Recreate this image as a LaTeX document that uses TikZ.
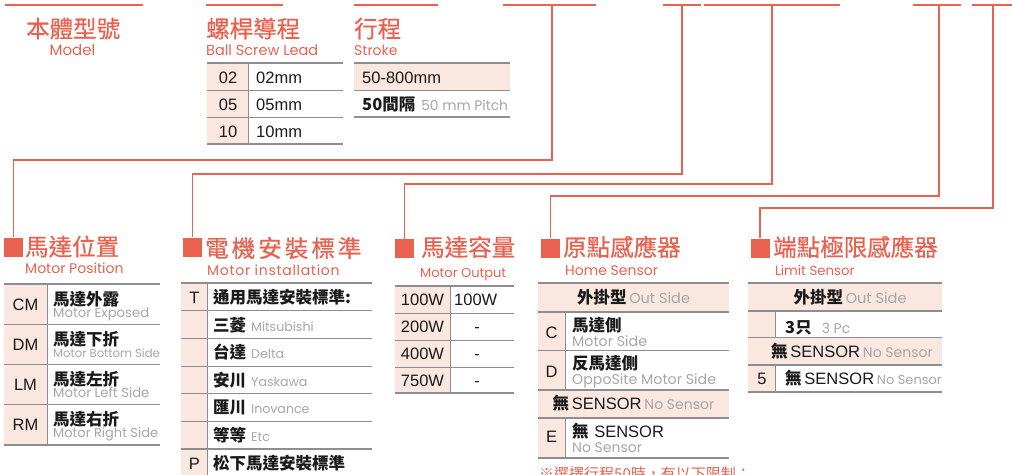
\documentclass[tikz,border=0pt]{standalone}
\usepackage{fontspec}
\setmainfont{Liberation Sans}
\newfontfamily\cjk{Noto Sans CJK TC}
\newfontfamily\cjkhead{Noto Sans CJK TC}[FakeBold=0.6]
\newfontfamily\geo{Poppins}
\definecolor{brand}{HTML}{E8624F}
\definecolor{shade}{HTML}{FAE8E0}
\definecolor{rulec}{HTML}{8E8E8E}
\definecolor{note}{HTML}{A6A6A6}
\definecolor{ink}{HTML}{1A1A1A}
\newcommand\headf{\cjkhead\fontsize{23.5}{24}\selectfont}
\newcommand\subf{\geo\fontsize{14}{14}\selectfont}
\newcommand\zhf{\cjk\bfseries\fontsize{16.5}{17}\selectfont\color{ink}}
\newcommand\enf{\geo\fontsize{13.2}{13.2}\selectfont\color{note}}
\newcommand\cdf{\fontsize{16.5}{17}\selectfont\color{ink}}
\newcommand\enz[1]{\geo\fontsize{#1}{#1}\selectfont\color{note}}
\tikzset{
  topline/.style={draw=brand, line width=2.6pt},
  link/.style={draw=brand, line width=1.6pt},
  sqbox/.style={fill=brand, minimum width=19pt, minimum height=19pt, inner sep=0pt},
  headtxt/.style={inner sep=0pt, anchor=base west, text=brand, font=\headf},
  subtxt/.style={inner sep=0pt, anchor=base west, text=brand, font=\subf},
  txt/.style={inner sep=0pt, anchor=base west},
  ctxt/.style={inner sep=0pt, anchor=base},
  bigrule/.style={draw=rulec, line width=2pt},
  smallrule/.style={draw=rulec, line width=1pt},
  shd/.style={fill=shade, draw=none},
}
\begin{document}
\begin{tikzpicture}[x=1pt,y=-1pt]
\useasboundingbox (0,0) rectangle (1012,474);
\clip (0,0) rectangle (1012,474);

% ---------- top segments ----------
\draw[topline] (5,5) -- (143,5);
\draw[topline] (206,5) -- (283,5);
\draw[topline] (354,5) -- (438,5);
\draw[topline] (503,5) -- (596,5);
\draw[topline] (663,5) -- (701,5);
\draw[topline] (704,5) -- (840,5);
\draw[topline] (913,5) -- (961,5);
\draw[topline] (972,5) -- (1012,5);
\coordinate (d4) at (552,5);
\coordinate (d5) at (682,5);
\coordinate (d6) at (772,5);
\coordinate (d7) at (939,5);
\coordinate (d8) at (993,5);

% ---------- top headings ----------
\node[headtxt] (h1) at (26,37.5) {本體型號};
\node[subtxt, anchor=base, font=\geo\fontsize{15}{15}\selectfont] (s1) at (72.5,55) {Model};
\node[headtxt] (h2) at (206,37.5) {螺桿導程};
\node[subtxt, font=\geo\fontsize{14.5}{14.5}\selectfont] (s2) at (206,55) {Ball Screw Lead};
\node[headtxt] (h3) at (354,37.5) {行程};
\node[subtxt] (s3) at (354,55) {Stroke};

% ---------- table: ball screw lead ----------
\fill[shd] (207,63) rectangle (248,144);
\draw[bigrule] (207,63) -- (343,63);
\draw[smallrule] (207,90) -- (343,90);
\draw[smallrule] (207,117) -- (343,117);
\draw[bigrule] (207,144) -- (343,144);
\draw[smallrule] (248,63) -- (248,144);
\node[ctxt, font=\cdf] (a1) at (228,83) {02};
\node[txt, font=\cdf] (a2) at (256,83) {02mm};
\node[ctxt, font=\cdf] (a3) at (228,110.5) {05};
\node[txt, font=\cdf] (a4) at (256,110.5) {05mm};
\node[ctxt, font=\cdf] (a5) at (228,137) {10};
\node[txt, font=\cdf] (a6) at (256,137) {10mm};

% ---------- table: stroke ----------
\fill[shd] (354,63) rectangle (510,90);
\draw[bigrule] (354,63) -- (510,63);
\draw[smallrule] (354,90) -- (510,90);
\draw[bigrule] (354,117) -- (510,117);
\node[txt, font=\cdf] (b1) at (362,83) {50-800mm};
\node[txt] (b2) at (362,110) {{\zhf 50間隔}\hspace{6pt}{\enz{13.8}50 mm Pitch}};

% ---------- squares and connectors ----------
\node[sqbox] (sqA) at (13.5,247) {};
\node[sqbox] (sqB) at (192.5,247) {};
\node[sqbox] (sqC) at (404.5,248.5) {};
\node[sqbox] (sqD) at (550.5,248) {};
\node[sqbox] (sqE) at (760,248) {};
\draw[link] (d4) -- (d4 |- 0,160) -| (sqA.north);
\draw[link] (d5) -- (d5 |- 0,174) -| (sqB.north);
\draw[link] (d6) -- (d6 |- 0,184) -| (sqC.north);
\draw[link] (d7) -- (d7 |- 0,196) -| (sqD.north);
\draw[link] (d8) -- (d8 |- 0,208) -| (sqE.north);

% ---------- lower headings ----------
\node[headtxt] (h4) at (25,255.5) {馬達位置};
\node[subtxt] (s4) at (25,273) {Motor Position};
\node[headtxt, font=\headf\addfontfeature{LetterSpace=13}] (h5) at (205,257) {電機安裝標準};
\node[subtxt, font=\subf\addfontfeature{LetterSpace=5}] (s5) at (207,275) {Motor installation};
\node[headtxt] (h6) at (421,256) {馬達容量};
\node[subtxt, font=\geo\fontsize{13}{13}\selectfont] (s6) at (420,277) {Motor Output};
\node[headtxt] (h7) at (563,256) {原點感應器};
\node[subtxt] (s7) at (565,275) {Home Sensor};
\node[headtxt] (h8) at (773,256) {端點極限感應器};
\node[subtxt, font=\geo\fontsize{13.3}{13.3}\selectfont] (s8) at (775,275) {Limit Sensor};

% ---------- table: motor position ----------
\fill[shd] (4,284) rectangle (47,445);
\draw[bigrule] (4,284) -- (160,284);
\draw[smallrule] (4,324) -- (160,324);
\draw[smallrule] (4,364) -- (160,364);
\draw[smallrule] (4,404) -- (160,404);
\draw[bigrule] (4,445) -- (160,445);
\draw[smallrule] (47,284) -- (47,445);
\node[ctxt, font=\cdf] (c1) at (25.5,310) {CM};
\node[txt, font=\zhf] (c2) at (53,305) {馬達外露};
\node[txt, font=\enf] (c3) at (53,317) {Motor Exposed};
\node[ctxt, font=\cdf] (c4) at (25.5,350) {DM};
\node[txt, font=\zhf] (c5) at (53,345) {馬達下折};
\node[txt, font=\enz{11.6}] (c6) at (53,357) {Motor Bottom Side};
\node[ctxt, font=\cdf] (c7) at (25.5,390) {LM};
\node[txt, font=\zhf] (c8) at (53,385) {馬達左折};
\node[txt, font=\enf] (c9) at (53,397) {Motor Left Side};
\node[ctxt, font=\cdf] (c10) at (25.5,430.5) {RM};
\node[txt, font=\zhf] (c11) at (53,425.5) {馬達右折};
\node[txt, font=\enz{13}] (c12) at (53,437.5) {Motor Right Side};

% ---------- table: motor installation ----------
\fill[shd] (181,283) rectangle (207,480);
\draw[bigrule] (181,283) -- (372,283);
\foreach \yy in {310,338,366,393,421} {\draw[smallrule] (181,\yy) -- (372,\yy);}
\draw[bigrule] (181,449) -- (372,449);
\draw[smallrule] (207,283) -- (207,480);
\node[ctxt, font=\cdf] (e1) at (194.5,303) {T};
\node[txt, font=\zhf] (e2) at (213,303) {通用馬達安裝標準:};
\node[txt] (e3) at (213,331) {{\zhf 三菱}\hspace{5pt}{\enz{12.6}Mitsubishi}};
\node[txt] (e4) at (213,358.5) {{\zhf 台達}\hspace{5pt}{\enz{12.6}Delta}};
\node[txt] (e5) at (213,386) {{\zhf 安川}\hspace{5pt}{\enz{12.6}Yaskawa}};
\node[txt] (e6) at (213,413.5) {{\zhf 匯川}\hspace{5pt}{\enz{12.6}Inovance}};
\node[txt] (e7) at (213,441) {{\zhf 等等}\hspace{5pt}{\enz{12.6}Etc}};
\node[ctxt, font=\cdf] (e8) at (194.5,469) {P};
\node[txt, font=\zhf] (e9) at (213,469) {松下馬達安裝標準};

% ---------- table: motor output ----------
\fill[shd] (395,286) rectangle (450,393);
\draw[bigrule] (395,286) -- (514,286);
\draw[smallrule] (395,313) -- (514,313);
\draw[smallrule] (395,340) -- (514,340);
\draw[smallrule] (395,367) -- (514,367);
\draw[bigrule] (395,393) -- (514,393);
\draw[smallrule] (450,286) -- (450,393);
\node[ctxt, font=\cdf] (f1) at (422.5,305.5) {100W};
\node[txt, font=\cdf] (f2) at (454,305.5) {100W};
\node[ctxt, font=\cdf] (f3) at (422.5,332.5) {200W};
\node[ctxt, font=\cdf] (f4) at (477,332.5) {-};
\node[ctxt, font=\cdf] (f5) at (422.5,359.5) {400W};
\node[ctxt, font=\cdf] (f6) at (477,359.5) {-};
\node[ctxt, font=\cdf] (f7) at (422.5,386) {750W};
\node[ctxt, font=\cdf] (f8) at (477,386) {-};

% ---------- table: home sensor ----------
\fill[shd] (538,283) rectangle (729,312);
\fill[shd] (538,312) rectangle (565,390);
\fill[shd] (538,390) rectangle (729,418);
\fill[shd] (538,418) rectangle (565,458);
\draw[bigrule] (538,283) -- (729,283);
\draw[bigrule] (538,312) -- (729,312);
\draw[smallrule] (538,350) -- (729,350);
\draw[bigrule] (538,390) -- (729,390);
\draw[bigrule] (538,418) -- (729,418);
\draw[bigrule] (538,458) -- (729,458);
\draw[smallrule] (565,312) -- (565,390);
\draw[smallrule] (565,418) -- (565,458);
\node[ctxt] (g1) at (633.5,303) {{\zhf 外掛型}\ {\enz{14.5}Out Side}};
\node[ctxt, font=\cdf] (g2) at (551.5,338) {C};
\node[txt, font=\zhf] (g3) at (572,331) {馬達側};
\node[txt, font=\enz{14.2}] (g4) at (572,346) {Motor Side};
\node[ctxt, font=\cdf] (g5) at (551.5,377) {D};
\node[txt, font=\zhf] (g6) at (572,369) {反馬達側};
\node[txt, font=\enz{14.2}] (g7) at (572,384) {OppoSite Motor Side};
\node[ctxt] (g8) at (633.5,409.5) {{\zhf 無}\ {\cdf SENSOR}\ {\enz{14}No Sensor}};
\node[ctxt, font=\cdf] (g9) at (551.5,442) {E};
\node[txt] (g10) at (572,437) {{\zhf 無}\ \ {\cdf SENSOR}};
\node[txt, font=\enz{14}] (g11) at (572,452) {No Sensor};
\node[txt, text=brand, font=\cjk\fontsize{15}{15}\selectfont] (g12) at (539,479) {※選擇行程50時，有以下限制：};

% ---------- table: limit sensor ----------
\fill[shd] (748,283) rectangle (942,311);
\fill[shd] (748,311) rectangle (775,337);
\fill[shd] (748,337) rectangle (942,365);
\fill[shd] (748,365) rectangle (775,392);
\draw[bigrule] (748,283) -- (942,283);
\draw[bigrule] (748,311) -- (942,311);
\draw[smallrule] (748,337) -- (942,337);
\draw[bigrule] (748,365) -- (942,365);
\draw[bigrule] (748,392) -- (942,392);
\draw[smallrule] (775,311) -- (775,337);
\draw[smallrule] (775,365) -- (775,392);
\node[ctxt] (k1) at (850,303) {{\zhf 外掛型}\ {\enz{14.5}Out Side}};
\node[txt] (k2) at (785,333) {{\zhf 3只}\hspace{10pt}{\enz{14}3 Pc}};
\node[ctxt] (k3) at (852,357.5) {{\zhf 無}\ {\cdf SENSOR}\ {\enz{14}No Sensor}};
\node[ctxt, font=\cdf] (k4) at (762,384) {5};
\node[txt] (k5) at (785,384) {{\zhf 無}\ {\cdf SENSOR}\ {\enz{13}No Sensor}};
\end{tikzpicture}
\end{document}
